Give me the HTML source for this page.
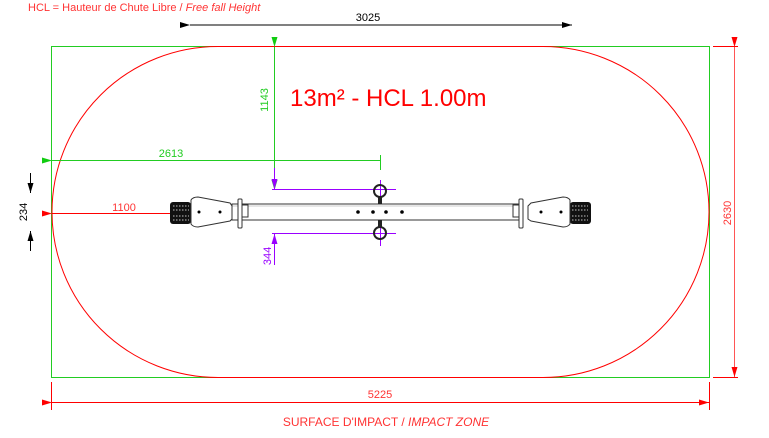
<!DOCTYPE html>
<html><head><meta charset="utf-8"><style>
html,body{margin:0;padding:0;background:#fff;width:769px;height:438px;overflow:hidden}
svg{display:block}
text{font-family:"Liberation Sans",sans-serif}
</style></head><body>
<svg width="769" height="438" viewBox="0 0 769 438" xmlns="http://www.w3.org/2000/svg">
<defs>
<marker id="ak" markerWidth="10" markerHeight="6" refX="10" refY="3" orient="auto" markerUnits="userSpaceOnUse"><path d="M0,0 L10,3 L0,6z" fill="#000"/></marker>
<marker id="ar" markerWidth="10" markerHeight="6" refX="10" refY="3" orient="auto" markerUnits="userSpaceOnUse"><path d="M0,0 L10,3 L0,6z" fill="#f00"/></marker>
<marker id="ag" markerWidth="10" markerHeight="6" refX="10" refY="3" orient="auto" markerUnits="userSpaceOnUse"><path d="M0,0 L10,3 L0,6z" fill="#1c1"/></marker>
<marker id="ap" markerWidth="10" markerHeight="6" refX="10" refY="3" orient="auto" markerUnits="userSpaceOnUse"><path d="M0,0 L10,3 L0,6z" fill="#90f"/></marker>
</defs>
<text x="28" y="11" font-size="11" fill="#f33">HCL = Hauteur de Chute Libre / <tspan font-style="italic">Free fall Height</tspan></text>

<line x1="190" y1="25" x2="572" y2="25" stroke="#000" stroke-width="1" marker-start="url(#ak)" marker-end="url(#ak)"/>
<text x="368" y="21" font-size="11" text-anchor="middle" fill="#000">3025</text>

<rect x="51.5" y="46.5" width="658" height="331" fill="none" stroke="#2c2" stroke-width="1"/>
<rect x="52" y="46.5" width="657" height="331" rx="166" ry="165.5" fill="none" stroke="#f00" stroke-width="1"/>

<line x1="713" y1="46.5" x2="738" y2="46.5" stroke="#f00"/>
<line x1="713" y1="377.5" x2="738" y2="377.5" stroke="#f00"/>
<line x1="734.5" y1="47" x2="734.5" y2="377" stroke="#f55" stroke-width="1" marker-start="url(#ar)" marker-end="url(#ar)"/>
<text x="0" y="0" font-size="11" fill="#f33" text-anchor="middle" transform="translate(731,213) rotate(-90)">2630</text>

<line x1="51.5" y1="382" x2="51.5" y2="410" stroke="#f00"/>
<line x1="709.5" y1="382" x2="709.5" y2="410" stroke="#f00"/>
<line x1="52" y1="402.5" x2="709" y2="402.5" stroke="#f00" marker-start="url(#ar)" marker-end="url(#ar)"/>
<text x="380" y="398" font-size="11" text-anchor="middle" fill="#f33">5225</text>
<text x="386" y="426" font-size="12" text-anchor="middle" fill="#f33">SURFACE D'IMPACT / <tspan font-style="italic">IMPACT ZONE</tspan></text>

<text x="290" y="106" font-size="24" fill="#f00">13m² - HCL 1.00m</text>

<line x1="274.5" y1="47" x2="274.5" y2="190" stroke="#2c2" marker-start="url(#ag)" marker-end="url(#ag)"/>
<text x="0" y="0" font-size="11" fill="#2c2" text-anchor="middle" transform="translate(268,100) rotate(-90)">1143</text>

<line x1="52" y1="160.5" x2="381" y2="160.5" stroke="#2c2" marker-start="url(#ag)"/>
<line x1="380.5" y1="155" x2="380.5" y2="170" stroke="#2c2"/>
<text x="171" y="157" font-size="11" text-anchor="middle" fill="#2c2">2613</text>

<line x1="52" y1="213.5" x2="190" y2="213.5" stroke="#f00" marker-start="url(#ar)" marker-end="url(#ar)"/>
<text x="124" y="211" font-size="11" text-anchor="middle" fill="#f33">1100</text>

<line x1="30.5" y1="173" x2="30.5" y2="193" stroke="#000" marker-end="url(#ak)"/>
<line x1="30.5" y1="251" x2="30.5" y2="231" stroke="#000" marker-end="url(#ak)"/>
<text x="0" y="0" font-size="11" fill="#000" text-anchor="middle" transform="translate(27,212) rotate(-90)">234</text>

<line x1="272" y1="189.5" x2="396" y2="189.5" stroke="#90f"/>
<line x1="272" y1="233.5" x2="396" y2="233.5" stroke="#90f"/>
<line x1="274.5" y1="168" x2="274.5" y2="189" stroke="#90f" marker-end="url(#ap)"/>
<line x1="274.5" y1="265" x2="274.5" y2="234" stroke="#90f" marker-end="url(#ap)"/>
<text x="0" y="0" font-size="11" fill="#90f" text-anchor="middle" transform="translate(271,256) rotate(-90)">344</text>
<line x1="380.5" y1="180" x2="380.5" y2="246" stroke="#90f"/>

<rect x="232" y="204" width="290" height="16" fill="#fff" stroke="#333" stroke-width="1"/>
<line x1="232" y1="206" x2="522" y2="206" stroke="#999" stroke-width="0.6"/>
<circle cx="358" cy="212" r="1.8" fill="#000"/>
<circle cx="373" cy="212" r="1.8" fill="#000"/>
<circle cx="386" cy="212" r="1.8" fill="#000"/>
<circle cx="402" cy="212" r="1.8" fill="#000"/>
<circle cx="380" cy="191" r="6" fill="none" stroke="#222" stroke-width="2"/>
<rect x="378" y="196" width="4" height="8" fill="#222"/>
<circle cx="380" cy="233" r="6" fill="none" stroke="#222" stroke-width="2"/>
<rect x="378" y="220" width="4" height="8" fill="#222"/>
<rect x="170" y="202" width="21" height="22" rx="3" fill="#111"/>
<g stroke="#fff" stroke-width="0.8">
<line x1="173" y1="206" x2="189" y2="206" stroke-dasharray="1.5 1.5"/>
<line x1="173" y1="210" x2="189" y2="210" stroke-dasharray="1.5 1.5"/>
<line x1="173" y1="216" x2="189" y2="216" stroke-dasharray="1.5 1.5"/>
<line x1="173" y1="220" x2="189" y2="220" stroke-dasharray="1.5 1.5"/>
</g>
<path d="M191,200 Q193,197 198,197 L230,203 L232,206 L232,219 L230,221 L198,227 Q193,227 191,224 Z" fill="#fff" stroke="#333"/>
<circle cx="199" cy="212" r="1.5" fill="#000"/><circle cx="220" cy="212" r="1.5" fill="#000"/>
<rect x="238" y="199" width="4" height="29" rx="1" fill="#fff" stroke="#333"/>
<rect x="242" y="205" width="6" height="12" fill="#fff" stroke="#333"/>
<rect x="570" y="202" width="21" height="22" rx="3" fill="#111"/>
<g stroke="#fff" stroke-width="0.8">
<line x1="572" y1="206" x2="588" y2="206" stroke-dasharray="1.5 1.5"/>
<line x1="572" y1="210" x2="588" y2="210" stroke-dasharray="1.5 1.5"/>
<line x1="572" y1="216" x2="588" y2="216" stroke-dasharray="1.5 1.5"/>
<line x1="572" y1="220" x2="588" y2="220" stroke-dasharray="1.5 1.5"/>
</g>
<path d="M570,200 Q568,197 563,197 L531,203 L528,206 L528,219 L531,221 L563,227 Q568,227 570,224 Z" fill="#fff" stroke="#333"/>
<circle cx="541" cy="212" r="1.5" fill="#000"/><circle cx="561" cy="212" r="1.5" fill="#000"/>
<rect x="519" y="199" width="4" height="29" rx="1" fill="#fff" stroke="#333"/>
<rect x="513" y="205" width="6" height="12" fill="#fff" stroke="#333"/>
</svg>
</body></html>
